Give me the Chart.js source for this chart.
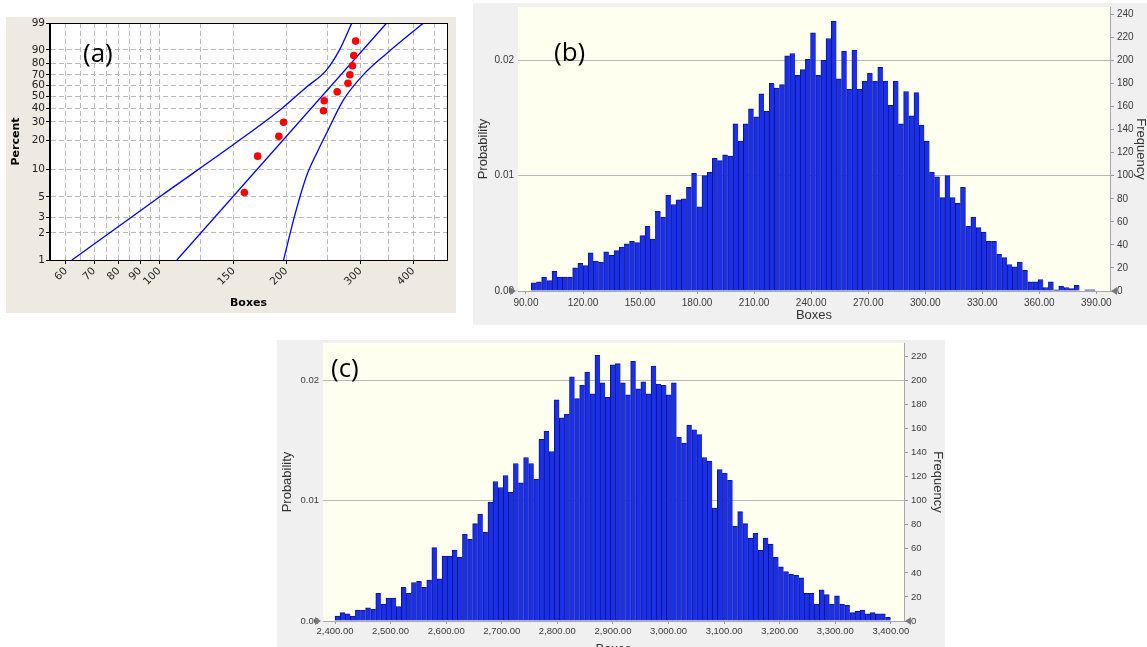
<!DOCTYPE html>
<html>
<head>
<meta charset="utf-8">
<title>Boxes – Weibull plot and simulated distributions</title>
<script src="https://cdn.jsdelivr.net/npm/chart.js@4.4.1/dist/chart.umd.min.js"></script>
<style>
  html, body { margin: 0; padding: 0; background: #fff; overflow: hidden; }
  body { width: 1147px; height: 647px; position: relative; }
  .panel { position: absolute; }
  .panel canvas { display: block; }
  .tag { position: absolute; font-family: "Open Sans", sans-serif; font-size: 26px; line-height: 1; color: #000; }
</style>
</head>
<body>

<div class="panel" style="left:6px;top:17px;width:450px;height:296px;background:#eeeae1;">
  <canvas id="chartA" width="450" height="296"></canvas>
</div>
<div class="panel" style="left:473px;top:3px;width:677px;height:322px;background:#f0f0f0;">
  <canvas id="chartB" width="677" height="322"></canvas>
</div>
<div class="panel" style="left:277px;top:340px;width:668px;height:327px;background:#f0f0f0;">
  <canvas id="chartC" width="668" height="327"></canvas>
</div>

<div class="tag" style="left:83px;top:39px;">(a)</div>
<div class="tag" style="left:554px;top:38px;">(b)</div>
<div class="tag" style="left:331px;top:354px;">(c)</div>

<script>
/* ---------- (a) Weibull probability plot ---------- */
const pctTicks = [1, 2, 3, 5, 10, 20, 30, 40, 50, 60, 70, 80, 90, 99];
const boxGrid = [60, 65, 70, 75, 80, 85, 90, 95, 100, 125, 150, 200, 250, 300, 350, 400, 450];
const boxLabels = [60, 70, 80, 90, 100, 150, 200, 300, 400];

const sampleBoxes = [159, 171, 192, 197, 245, 246, 264, 280, 283, 287, 289, 292];
const samplePct = [5.6, 13.7, 21.8, 29.8, 37.9, 46.0, 54.0, 62.1, 70.2, 78.2, 86.3, 94.4];

const fitBoxes = [110, 346];
const fitPct = [1, 99];
const upperBoxes = [62, 100, 155, 196.5, 223, 249, 268, 286];
const upperPct = [1, 5.0, 20, 40.5, 58.3, 74.4, 90.4, 99];
const lowerBoxes = [197, 210, 223, 238, 249, 273, 304, 346, 423];
const lowerPct = [1, 3.3, 8.3, 15.8, 23.3, 46.6, 69.8, 87.7, 99];

/* ---------- (b) simulated boxes, small case ---------- */
const boxTicksB = [90, 120, 150, 180, 210, 240, 270, 300, 330, 360, 390];
const freqTicksB = [0, 20, 40, 60, 80, 100, 120, 140, 160, 180, 200, 220, 240];
const binStartB = 92.8;
const binWidthB = 2.72;
const freqB = [
  7, 8, 12, 9, 17, 12, 12, 12, 20, 24,
  22, 33, 26, 25, 34, 31, 35, 38, 41, 43,
  42, 48, 56, 45, 69, 64, 83, 75, 79, 80,
  90, 102, 73, 100, 103, 115, 113, 118, 117, 145,
  130, 145, 158, 151, 171, 156, 180, 176, 179, 204,
  206, 187, 192, 201, 224, 187, 200, 219, 234, 184,
  208, 175, 209, 175, 182, 189, 182, 194, 182, 161,
  182, 145, 173, 152, 172, 144, 130, 103, 99, 81,
  100, 81, 76, 90, 56, 64, 55, 51, 43, 43,
  32, 29, 23, 21, 25, 18, 8, 8, 10, 3,
  8, 1, 4, 3, 2, 5, 0, 1, 1
];

/* ---------- (c) simulated boxes, large case ---------- */
const boxTicksC = [2400, 2500, 2600, 2700, 2800, 2900, 3000, 3100, 3200, 3300, 3400];
const freqTicksC = [0, 20, 40, 60, 80, 100, 120, 140, 160, 180, 200, 220];
const binStartC = 2400;
const binWidthC = 9.17;
const freqC = [
  4, 7, 6, 4, 9, 9, 11, 10, 23, 14,
  19, 19, 12, 28, 23, 32, 33, 28, 34, 61,
  35, 54, 54, 59, 53, 72, 68, 81, 89, 74,
  99, 116, 111, 121, 107, 131, 115, 136, 131, 118,
  151, 158, 141, 184, 169, 172, 203, 185, 196, 207,
  189, 221, 198, 186, 213, 214, 198, 188, 216, 193,
  199, 189, 212, 197, 196, 188, 198, 153, 148, 163,
  159, 155, 136, 133, 94, 126, 123, 117, 79, 91,
  81, 69, 73, 59, 69, 64, 53, 45, 41, 39,
  38, 36, 23, 23, 14, 26, 22, 14, 21, 14,
  13, 7, 8, 9, 6, 7, 6, 6, 3
];

const probTicks = [0, 0.01, 0.02];
const trials = 10000;

/* Weibull probability transform: y = ln(-ln(1 - p)) */
const weib = p => Math.log(-Math.log(1 - p / 100));
const toPoints = (xs, ps) => xs.map((x, i) => ({ x, y: weib(ps[i]) }));

/* keep label overhang from pushing the plot area around */
const noEdgePad = s => { s.paddingTop = 0; s.paddingBottom = 0; s.paddingLeft = 0; s.paddingRight = 0; };

/* chart-area fill, frame and the little grabber triangles */
const panelDeco = {
  id: 'panelDeco',
  beforeDraw(chart, args, opts) {
    const { ctx, chartArea: a } = chart;
    if (opts.areaColor) {
      ctx.save();
      ctx.fillStyle = opts.areaColor;
      ctx.fillRect(a.left, a.top, a.right - a.left, a.bottom - a.top);
      ctx.restore();
    }
  },
  afterDraw(chart, args, opts) {
    const { ctx, chartArea: a } = chart;
    ctx.save();
    if (opts.frame) {
      ctx.strokeStyle = opts.frame;
      ctx.lineWidth = 1;
      ctx.strokeRect(a.left - 0.5, a.top + 0.5, a.right - a.left + 1, a.bottom - a.top);
    }
    if (opts.grabbers) {
      ctx.fillStyle = '#7a7a7a';
      ctx.beginPath();
      ctx.moveTo(a.left - 8, a.bottom - 4);
      ctx.lineTo(a.left - 2, a.bottom);
      ctx.lineTo(a.left - 8, a.bottom + 4);
      ctx.closePath();
      ctx.fill();
      ctx.beginPath();
      ctx.moveTo(a.right + 7, a.bottom - 4);
      ctx.lineTo(a.right + 1, a.bottom);
      ctx.lineTo(a.right + 7, a.bottom + 4);
      ctx.closePath();
      ctx.fill();
    }
    ctx.restore();
  }
};

const noPlugins = { legend: { display: false }, tooltip: { enabled: false } };

/* ===== (a) ===== */
const blueLine = { showLine: true, pointRadius: 0, borderColor: '#0000ff', borderWidth: 1.3, fill: false };
const tickFontA = { family: 'DejaVu Sans', size: 10.5 };

new Chart(document.getElementById('chartA'), {
  type: 'scatter',
  data: {
    datasets: [
      { data: toPoints(sampleBoxes, samplePct), pointRadius: 3.8, pointBackgroundColor: '#ff0000', pointBorderWidth: 0 },
      { ...blueLine, data: toPoints(fitBoxes, fitPct) },
      { ...blueLine, data: toPoints(upperBoxes, upperPct), cubicInterpolationMode: 'monotone' },
      { ...blueLine, data: toPoints(lowerBoxes, lowerPct), cubicInterpolationMode: 'monotone' }
    ]
  },
  options: {
    responsive: false,
    animation: false,
    layout: { padding: { top: 6, right: 9, left: 0, bottom: 0 } },
    plugins: { ...noPlugins, panelDeco: { areaColor: '#ffffff', frame: '#000' } },
    scales: {
      x: {
        type: 'logarithmic',
        min: 55,
        max: 481,
        afterBuildTicks: s => { s.ticks = boxGrid.map(v => ({ value: v })); },
        afterFit: s => { noEdgePad(s); s.height = 53; },
        grid: {
          color: '#b9b9b9',
          tickLength: 4,
          tickColor: c => (c.tick && boxLabels.includes(c.tick.value)) ? '#000' : 'rgba(0,0,0,0)'
        },
        border: { color: '#000', dash: [5, 3] },
        ticks: {
          autoSkip: false,
          minRotation: 45,
          maxRotation: 45,
          padding: 1,
          color: '#222',
          font: tickFontA,
          callback: v => boxLabels.includes(v) ? String(v) : ''
        },
        title: {
          display: true,
          text: 'Boxes',
          color: '#000',
          font: { family: 'DejaVu Sans', size: 11, weight: 'bold' },
          padding: { top: 0, bottom: 3 }
        }
      },
      y: {
        type: 'linear',
        min: weib(pctTicks[0]),
        max: weib(pctTicks[pctTicks.length - 1]),
        afterBuildTicks: s => { s.ticks = pctTicks.map(p => ({ value: weib(p) })); },
        afterFit: s => { noEdgePad(s); s.width = 44; },
        grid: { color: '#b9b9b9', tickLength: 4, tickColor: '#000' },
        border: { color: '#000', dash: [5, 3] },
        ticks: {
          padding: 1,
          color: '#222',
          font: tickFontA,
          callback: (v, i) => String(pctTicks[i])
        },
        title: {
          display: true,
          text: 'Percent',
          color: '#000',
          font: { family: 'DejaVu Sans', size: 11, weight: 'bold' },
          padding: { top: 4, bottom: 0 }
        }
      }
    }
  },
  plugins: [panelDeco]
});

/* ===== (b) and (c) histograms ===== */
function histogram(canvasId, cfg) {
  const bars = cfg.freq.map((f, i) => ({ x: cfg.binStart + cfg.binWidth * (i + 0.5), y: f }));
  const tickFont = { family: 'Liberation Sans', size: cfg.tickSize };
  const titleFont = { family: 'Liberation Sans', size: 13 };

  new Chart(document.getElementById(canvasId), {
    type: 'bar',
    data: {
      datasets: [{
        data: bars,
        xAxisID: 'x',
        yAxisID: 'y',
        backgroundColor: '#1b2fe8',
        borderColor: '#0b1682',
        borderWidth: { top: 1, left: 1, right: 0, bottom: 0 },
        borderSkipped: false,
        barPercentage: 1,
        categoryPercentage: 1
      }]
    },
    options: {
      responsive: false,
      animation: false,
      layout: { padding: { top: cfg.padTop, left: 0, right: 0, bottom: 0 } },
      plugins: { ...noPlugins, panelDeco: { areaColor: '#fffff0', grabbers: true } },
      scales: {
        x: {
          type: 'linear',
          offset: false,
          min: cfg.xMin,
          max: cfg.xMax,
          afterBuildTicks: s => { s.ticks = cfg.xTicks.map(v => ({ value: v })); },
          afterFit: s => { noEdgePad(s); s.height = cfg.bottomH; },
          grid: { drawOnChartArea: false, tickLength: 3, tickColor: '#999', offset: false },
          border: { color: '#a8a8a8' },
          ticks: {
            autoSkip: false,
            maxRotation: 0,
            padding: cfg.xPad,
            color: '#3a3a3a',
            font: tickFont,
            callback: v => v.toLocaleString('en-US', { minimumFractionDigits: 2, maximumFractionDigits: 2 })
          },
          title: {
            display: true,
            text: 'Boxes',
            color: '#333',
            font: titleFont,
            padding: { top: 0, bottom: cfg.titleBottom }
          }
        },
        y: {
          position: 'right',
          min: 0,
          max: cfg.yMax,
          afterBuildTicks: s => { s.ticks = cfg.freqTicks.map(v => ({ value: v })); },
          afterFit: s => { noEdgePad(s); s.width = cfg.rightW; },
          grid: { drawOnChartArea: false, tickLength: 4, tickColor: '#999' },
          border: { color: '#a8a8a8' },
          ticks: { padding: 3, color: '#3a3a3a', font: tickFont },
          title: {
            display: true,
            text: 'Frequency',
            color: '#333',
            font: titleFont,
            padding: { top: cfg.rightTitlePad, bottom: 0 }
          }
        },
        yp: {
          position: 'left',
          min: 0,
          max: cfg.yMax / trials,
          afterBuildTicks: s => { s.ticks = probTicks.map(v => ({ value: v })); },
          afterFit: s => { noEdgePad(s); s.width = cfg.leftW; },
          grid: {
            drawTicks: false,
            tickLength: 0,
            color: c => (c.tick && c.tick.value > 0) ? '#b9b9b9' : 'rgba(0,0,0,0)'
          },
          border: { display: false },
          ticks: { padding: 4, color: '#3a3a3a', font: tickFont, callback: v => v.toFixed(2) },
          title: {
            display: true,
            text: 'Probability',
            color: '#333',
            font: titleFont,
            padding: { top: 2.5, bottom: 0 }
          }
        }
      }
    },
    plugins: [panelDeco]
  });
}

histogram('chartB', {
  freq: freqB, binStart: binStartB, binWidth: binWidthB,
  xTicks: boxTicksB, freqTicks: freqTicksB,
  xMin: 85.8, xMax: 397.2, yMax: 246.3,
  padTop: 4, bottomH: 34, leftW: 45, rightW: 40,
  xPad: 3, titleBottom: 2, rightTitlePad: 1.2, tickSize: 10
});

histogram('chartC', {
  freq: freqC, binStart: binStartC, binWidth: binWidthC,
  xTicks: boxTicksC, freqTicks: freqTicksC,
  xMin: 2378.4, xMax: 3423.6, yMax: 231.2,
  padTop: 3, bottomH: 46, leftW: 46, rightW: 41,
  xPad: 2, titleBottom: 10, rightTitlePad: 0, tickSize: 9.5
});
</script>
</body>
</html>
